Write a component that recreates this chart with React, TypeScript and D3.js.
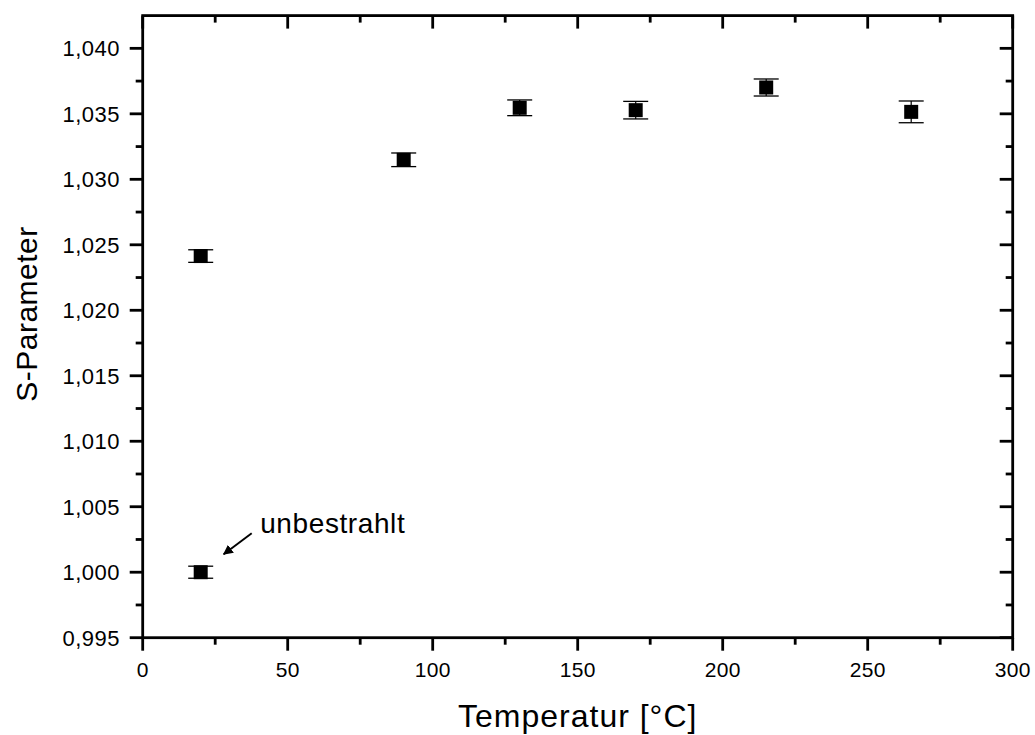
import React from "react";
import * as d3 from "d3";

const temperatures = [20, 20, 90, 130, 170, 215, 265];
const sValues = [1.0, 1.02414, 1.03149, 1.03546, 1.03528, 1.03701, 1.03515];
const sErrors = [0.00046, 0.00048, 0.00052, 0.0006, 0.00067, 0.00065, 0.00083];
const xTicks = [0, 50, 100, 150, 200, 250, 300];
const xMinorTicks = [25, 75, 125, 175, 225, 275];
const yTicks = [0.995, 1.0, 1.005, 1.01, 1.015, 1.02, 1.025, 1.03, 1.035, 1.04];
const yMinorTicks = [0.9975, 1.0025, 1.0075, 1.0125, 1.0175, 1.0225, 1.0275, 1.0325, 1.0375];
const xTitle = "Temperatur [°C]";
const yTitle = "S-Parameter";
const annotation = { text: "unbestrahlt", x: 20, y: 1.0 };

const W = 1035;
const H = 735;
const left = 142.7;
const right = 1012.7;
const top = 15.6;
const bottom = 637.7;
const FONT = "'Liberation Sans', Arial, sans-serif";

export default function App() {
  const x = d3.scaleLinear().domain([0, 300]).range([left, right]);
  const y = d3.scaleLinear().domain([0.995, 1.0425]).range([bottom, top]);
  const fmt = (v: number) => d3.format(".3f")(v).replace(".", ",");
  const major = 13;
  const minor = 7;
  const sw = 2.8;
  const ax = x(annotation.x);
  const ay = y(annotation.y);
  return (
    <div style={{ position: "absolute", left: 0, top: 0 }}>
      <svg width={W} height={H} style={{ display: "block", background: "#fff" }} fontFamily={FONT}>
        <defs>
          <marker id="ah" viewBox="0 0 10 10" refX="9" refY="5" markerWidth="5" markerHeight="5" orient="auto">
            <path d="M0,0 L10,5 L0,10 z" fill="#000" />
          </marker>
        </defs>
        {xTicks.map((t) => (
          <g key={"xt" + t}>
            <line x1={x(t)} x2={x(t)} y1={bottom} y2={bottom + major} stroke="#000" strokeWidth={sw} />
            <line x1={x(t)} x2={x(t)} y1={top} y2={top + major} stroke="#000" strokeWidth={sw} />
            <text x={x(t)} y={677} textAnchor="middle" fontSize={21} letterSpacing={0.3}>{t}</text>
          </g>
        ))}
        {xMinorTicks.map((t) => (
          <g key={"xm" + t}>
            <line x1={x(t)} x2={x(t)} y1={bottom} y2={bottom + minor} stroke="#000" strokeWidth={sw} />
            <line x1={x(t)} x2={x(t)} y1={top} y2={top + minor} stroke="#000" strokeWidth={sw} />
          </g>
        ))}
        {yTicks.map((t) => (
          <g key={"yt" + t}>
            <line x1={left - major} x2={left} y1={y(t)} y2={y(t)} stroke="#000" strokeWidth={sw} />
            <line x1={right - major} x2={right} y1={y(t)} y2={y(t)} stroke="#000" strokeWidth={sw} />
            <text x={120} y={y(t) + 8} textAnchor="end" fontSize={22} letterSpacing={0.5}>{fmt(t)}</text>
          </g>
        ))}
        {yMinorTicks.map((t) => (
          <g key={"ym" + t}>
            <line x1={left - minor} x2={left} y1={y(t)} y2={y(t)} stroke="#000" strokeWidth={sw} />
            <line x1={right - minor} x2={right} y1={y(t)} y2={y(t)} stroke="#000" strokeWidth={sw} />
          </g>
        ))}
        <rect x={left} y={top} width={right - left} height={bottom - top} fill="none" stroke="#000" strokeWidth={sw} />
        {temperatures.map((t, i) => {
          const cx = x(t);
          const cy = y(sValues[i]);
          const y1 = y(sValues[i] + sErrors[i]);
          const y2 = y(sValues[i] - sErrors[i]);
          return (
            <g key={"p" + i}>
              <line x1={cx} x2={cx} y1={y1} y2={y2} stroke="#000" strokeWidth={1.2} />
              <line x1={cx - 12.5} x2={cx + 12.5} y1={y1} y2={y1} stroke="#000" strokeWidth={1.3} />
              <line x1={cx - 12.5} x2={cx + 12.5} y1={y2} y2={y2} stroke="#000" strokeWidth={1.3} />
              <rect x={cx - 7} y={cy - 7} width={14} height={14} fill="#000" />
            </g>
          );
        })}
        <line x1={ax + 51} y1={ay - 39} x2={ax + 23} y2={ay - 18} stroke="#000" strokeWidth={2} markerEnd="url(#ah)" />
        <text x={ax + 59.5} y={ay - 39} fontSize={28} letterSpacing={0.6}>{annotation.text}</text>
        <text x={(left + right) / 2} y={727} textAnchor="middle" fontSize={32} letterSpacing={1}>{xTitle}</text>
        <text transform={`translate(37,314) rotate(-90)`} textAnchor="middle" fontSize={30} letterSpacing={0.5}>{yTitle}</text>
      </svg>
    </div>
  );
}
